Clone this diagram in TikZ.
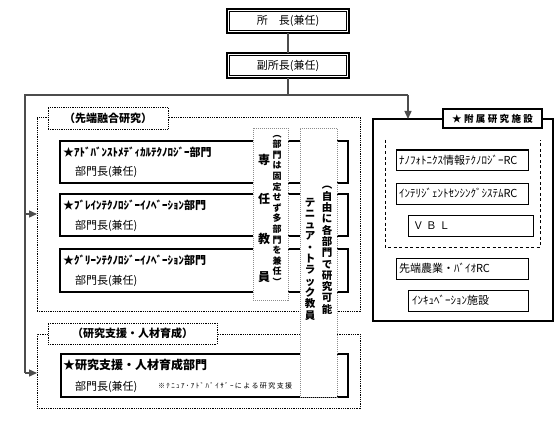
\documentclass[tikz,border=0pt]{standalone}
\usepackage{fontspec}
\setmainfont{Noto Sans CJK JP}
\newfontfamily\jpA[LetterSpace=25]{Noto Sans CJK JP}
\newfontfamily\jpB[LetterSpace=20]{Noto Sans CJK JP}
\usetikzlibrary{arrows.meta}
\newcommand\jfs[1]{\fontsize{#1pt}{#1pt}\selectfont}
\begin{document}
\begin{tikzpicture}[x=1pt,y=-1pt,
  every node/.style={inner sep=0pt, outer sep=0pt},
  conn/.style={line width=1.4pt, draw=black!70},
  arr/.style={conn, -{Triangle[length=8pt,width=7pt]}},
  outerbox/.style={draw, line width=1.3pt, fill=white},
  innerline/.style={draw, line width=0.6pt},
  solidbox/.style={draw, line width=1.1pt, fill=white},
  thinbox/.style={draw, line width=1pt, fill=white},
  dotbox/.style={draw, line width=0.9pt, dash pattern=on 0.9pt off 0.9pt},
  dotlbl/.style={draw, line width=0.9pt, dash pattern=on 0.9pt off 0.9pt, fill=white},
  colbox/.style={draw=black!45, line width=0.8pt, dash pattern=on 1pt off 1pt, fill=white},
  dashline/.style={draw, line width=0.9pt, dash pattern=on 3pt off 2.5pt},
  ttl/.style={anchor=west, font=\bfseries\jfs{11}},
  sub/.style={anchor=west, font=\jfs{11}},
  rtxt/.style={anchor=west, font=\jfs{11}}
]
\useasboundingbox (0,0) rectangle (554,433);
\fill[white] (0,0) rectangle (554,433);

% top boxes (double border)
\node[outerbox, minimum width=122pt, minimum height=24pt, font=\jfs{11}] (shocho) at (288,21) {所\hspace{1em}長(兼任)};
\draw[innerline] ([shift={(2.4,2.4)}]shocho.north west) rectangle ([shift={(-2.4,-2.4)}]shocho.south east);
\node[outerbox, minimum width=122pt, minimum height=25pt, font=\jfs{11}] (fuku) at (288,65.5) {副所長(兼任)};
\draw[innerline] ([shift={(2.4,2.4)}]fuku.north west) rectangle ([shift={(-2.4,-2.4)}]fuku.south east);

\coordinate (j1) at (288,95);
\coordinate (jl) at (25,95);
\coordinate (jr) at (408,95);
\coordinate (ja) at (25,214);
\coordinate (jb) at (25,373);

% outer dotted groups
\node[dotbox, minimum width=323pt, minimum height=194pt] (ob1) at (198.5,214) {};
\node[dotbox, minimum width=323pt, minimum height=74pt] (ob2) at (198.5,371) {};
\node[dotlbl, minimum width=120pt, minimum height=22pt, font=\bfseries\jfs{11}] (lab1) at (108,118) {（先端融合研究）};
\node[dotlbl, minimum width=169pt, minimum height=21pt, font=\bfseries\jfs{11}] (lab2) at (132.5,333.5) {（研究支援・人材育成）};

% department boxes
\node[solidbox, minimum width=288pt, minimum height=42pt] (dA) at (204,162) {};
\node[solidbox, minimum width=288pt, minimum height=42pt] (dB) at (204,215) {};
\node[solidbox, minimum width=288pt, minimum height=43pt] (dC) at (204,270.5) {};
\node[solidbox, minimum width=287pt, minimum height=43pt] (dD) at (204.5,375.5) {};

\node[ttl] (tA) at (63,152) {★ｱﾄﾞﾊﾞﾝｽﾄﾒﾃﾞｨｶﾙﾃｸﾉﾛｼﾞｰ部門};
\node[sub] (sA) at (75,172) {部門長(兼任)};
\node[ttl] (tB) at (63,205) {★ﾌﾞﾚｲﾝﾃｸﾉﾛｼﾞｰｲﾉﾍﾞｰｼｮﾝ部門};
\node[sub] (sB) at (75,226) {部門長(兼任)};
\node[ttl] (tC) at (63,260) {★ｸﾞﾘｰﾝﾃｸﾉﾛｼﾞｰｲﾉﾍﾞｰｼｮﾝ部門};
\node[sub] (sC) at (75,281) {部門長(兼任)};
\node[ttl, font=\bfseries\jfs{12}] (tD) at (63,365) {★研究支援・人材育成部門};
\node[sub] (sD) at (75,387) {部門長(兼任)};
\node[anchor=west, font=\jpB\jfs{7}] (nD) at (158,386) {※ﾃﾆｭｱ･ｱﾄﾞﾊﾞｲｻﾞｰによる研究支援};

% vertical columns
\node[colbox, minimum width=35pt, minimum height=172pt] (col1) at (270.5,214) {};
\node[colbox, minimum width=37pt, minimum height=269pt] (col2) at (318.5,262.5) {};

\node[anchor=north, align=center, font={\bfseries\fontsize{9}{10.6}\selectfont}] (c1r) at (277,135)
  {︵\\部\\門\\は\\固\\定\\せ\\ず\\多\\部\\門\\を\\兼\\任\\︶};
\node[font=\bfseries\jfs{12}] (c1a) at (264,160) {専};
\node[font=\bfseries\jfs{12}] (c1b) at (264,199) {任};
\node[font=\bfseries\jfs{12}] (c1c) at (264,239) {教};
\node[font=\bfseries\jfs{12}] (c1d) at (264,277) {員};

\node[anchor=north, align=center, font={\bfseries\fontsize{10.5}{11.3}\selectfont}] (c2r) at (327,186.5)
  {︵\\自\\由\\に\\各\\部\\門\\で\\研\\究\\可\\能};
\node[anchor=north, align=center, font={\bfseries\fontsize{10.5}{11.3}\selectfont}] (c2l) at (310,197.8)
  {テ\\ニ\\ュ\\ア\\・\\ト\\ラ\\ッ\\ク\\教\\員};

% right side facilities
\node[solidbox, minimum width=180pt, minimum height=202pt] (fz) at (463,220) {};
\node[solidbox, minimum width=99pt, minimum height=19pt, font=\bfseries\jpA\jfs{9.5}] (fzl) at (492.5,118.5) {★附属研究施設};
\draw[dashline] (385,140) -- (385,247) -- (540,247) -- (540,140);
\node[thinbox, minimum width=132pt, minimum height=20pt] (r1) at (462,160) {};
\node[thinbox, minimum width=132pt, minimum height=21pt] (r2) at (462,193.5) {};
\node[thinbox, minimum width=125pt, minimum height=21pt] (r3) at (470.5,225.5) {};
\node[thinbox, minimum width=132pt, minimum height=21pt] (r4) at (462,268.5) {};
\node[thinbox, minimum width=120pt, minimum height=21pt] (r5) at (468,300.5) {};
\node[rtxt] (r1t) at (399,160) {ﾅﾉﾌｫﾄﾆｸｽ情報ﾃｸﾉﾛｼﾞｰRC};
\node[rtxt] (r2t) at (399,193.5) {ｲﾝﾃﾘｼﾞｪﾝﾄｾﾝｼﾝｸﾞｼｽﾃﾑRC};
\node[rtxt, font=\jpA\jfs{10.5}] (r3t) at (413,225.5) {ＶＢＬ};
\node[rtxt] (r4t) at (399,268.5) {先端農業・ﾊﾞｲｵRC};
\node[rtxt] (r5t) at (412,300.5) {ｲﾝｷｭﾍﾞｰｼｮﾝ施設};

% connectors
\draw[conn] (shocho.south) -- (fuku.north);
\draw[conn] (fuku.south) -- (j1);
\draw[conn, line join=miter] (jr) -- (jl) -- (jb);
\draw[arr] (jr) -- (jr |- fz.north);
\draw[arr] (ja) -- (ja -| ob1.west);
\draw[arr] (jb) -- (jb -| ob2.west);
\end{tikzpicture}
\end{document}
